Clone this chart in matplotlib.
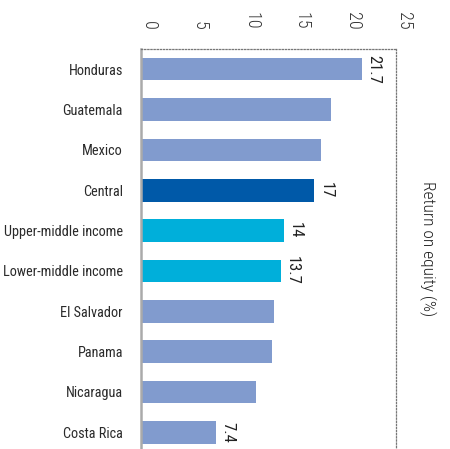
import matplotlib
matplotlib.use("Agg")
import matplotlib.pyplot as plt
from matplotlib.transforms import ScaledTranslation

plt.rcParams['font.family'] = ['Roboto Condensed', 'DejaVu Sans']

categories = ["Honduras", "Guatemala", "Mexico", "Central", "Upper-middle income",
              "Lower-middle income", "El Salvador", "Panama", "Nicaragua", "Costa Rica"]
values = [21.7, 18.6, 17.6, 17.0, 14.0, 13.7, 13.0, 12.8, 11.25, 7.4]
labelled = {"Honduras": "21.7", "Central": "17", "Upper-middle income": "14",
            "Lower-middle income": "13.7", "Costa Rica": "7.4"}
x_ticks = [0, 5, 10, 15, 20, 25]

palette = {"Central": "#0059a8", "Upper-middle income": "#00afda",
           "Lower-middle income": "#00afda"}
default_color = "#819bce"
colors = [palette.get(c, default_color) for c in categories]

fig = plt.figure(figsize=(4.5, 4.49), dpi=100)
W, H = 450, 449
left, right, top, bottom = 141, 396, 49, 452.5
ax = fig.add_axes([left / W, (H - bottom) / H, (right - left) / W, (bottom - top) / H])

pos = list(range(len(categories)))
ax.barh(pos, values, height=0.56, color=colors, zorder=2)
ax.set_ylim(len(categories) - 0.5, -0.5)
ax.set_xlim(0, 25)

ax.set_yticks(pos)
ax.set_yticklabels(categories, fontsize=10.3, color="#2a2a2a")
ax.tick_params(axis="y", length=0, pad=13)

ax.xaxis.tick_top()
ax.set_xticks(x_ticks)
ax.set_xticklabels([str(t) for t in x_ticks], rotation=-90, fontsize=13,
                   fontweight="light", color="#333333", va="bottom", ha="center")
ax.tick_params(axis="x", length=0, pad=14)
shift = ScaledTranslation(8 / 100, 0, fig.dpi_scale_trans)
for lbl in ax.get_xticklabels():
    lbl.set_transform(lbl.get_transform() + shift)

for i, (c, v) in enumerate(zip(categories, values)):
    if c in labelled:
        ax.annotate(labelled[c], (v, i), xytext=(3, 0), textcoords="offset points",
                    rotation=-90, va="center", ha="left", fontsize=12, color="#222222")

for side in ("top", "right"):
    ax.spines[side].set_linestyle((0, (1, 1.5)))
    ax.spines[side].set_color("#777777")
    ax.spines[side].set_linewidth(0.9)
ax.spines["left"].set_linestyle((0, (1, 1)))
ax.spines["left"].set_color("#aaaaaa")
ax.spines["left"].set_linewidth(1.8)
ax.spines["bottom"].set_visible(False)

fig.text(428 / W, 1 - 249 / H, "Return on equity (%)", rotation=-90, va="center",
         ha="center", fontsize=12.5, fontweight="light", color="#222222")

fig.savefig("out.png", dpi=100)
